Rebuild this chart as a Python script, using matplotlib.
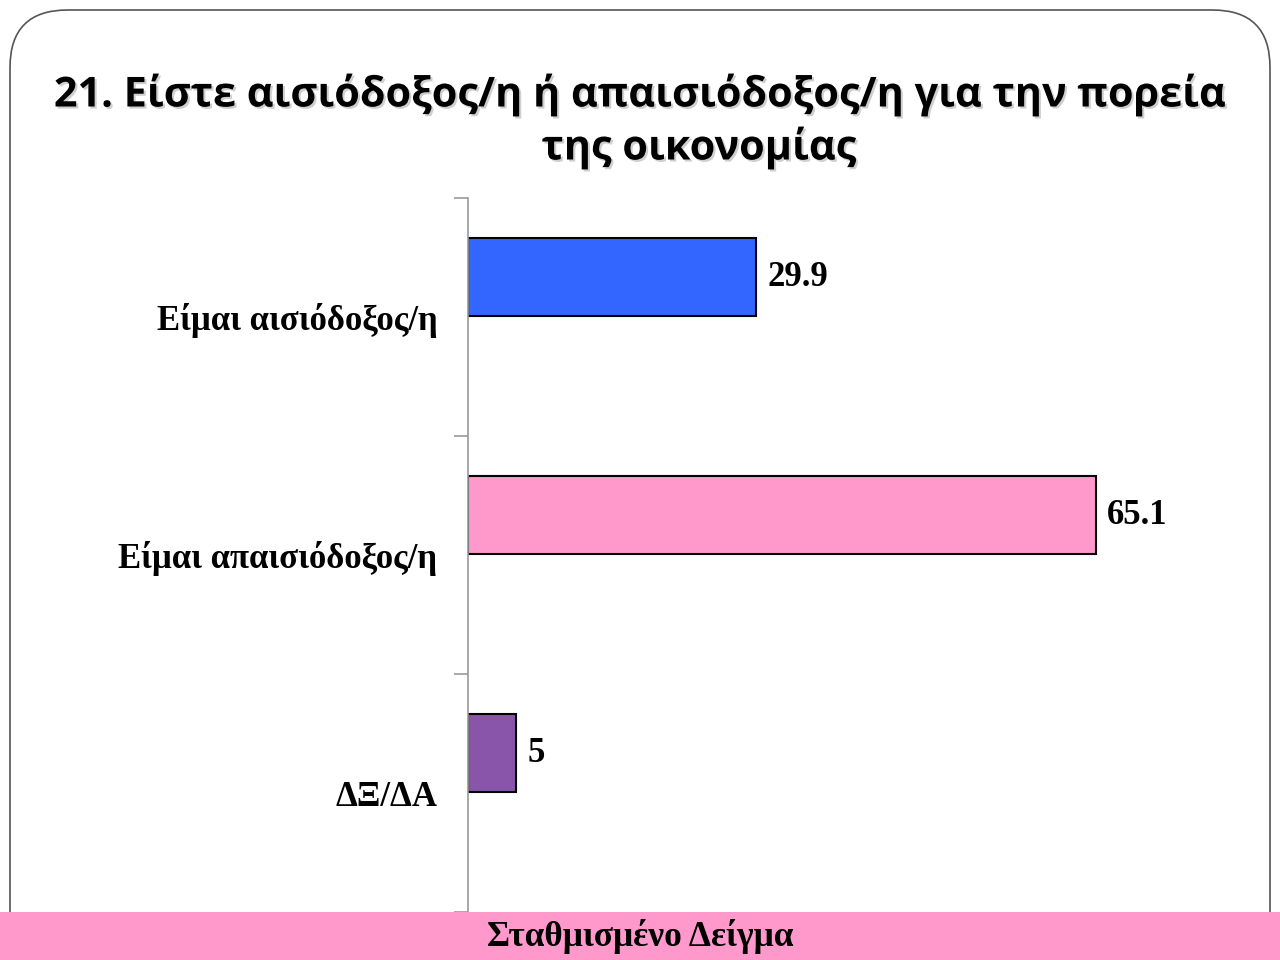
import matplotlib.pyplot as plt
import matplotlib.patheffects as pe
from matplotlib.patches import FancyBboxPatch, Rectangle

# data
categories = ['Είμαι αισιόδοξος/η', 'Είμαι απαισιόδοξος/η', 'ΔΞ/ΔΑ']
values = [29.9, 65.1, 5]
colors = ['#3366FF', '#FF99CC', '#8855AA']
title_line1 = '21. Είστε αισιόδοξος/η ή απαισιόδοξος/η για την πορεία'
title_line2 = 'της οικονομίας'
footer = 'Σταθμισμένο Δείγμα'

fig = plt.figure(figsize=(12.8, 9.6), dpi=100)

# slide frame with rounded corners
frame = FancyBboxPatch((10 / 1280, -0.05), 1260 / 1280, 0.05 + 950 / 960,
                       boxstyle='round,pad=0,rounding_size=0.045',
                       transform=fig.transFigure, facecolor='white',
                       edgecolor='#555555', linewidth=1.2, mutation_aspect=1.33,
                       zorder=-2)
fig.patches.append(frame)

# pink footer band
fig.patches.append(Rectangle((0, 0), 1, 48 / 960, transform=fig.transFigure,
                             facecolor='#FF99CC', edgecolor='none', zorder=3))
fig.text(0.5, 24 / 960, footer, ha='center', va='center', fontsize=25.5,
         fontweight='bold', family='Liberation Serif', zorder=4)

# title with soft shadow
shadow = [pe.SimplePatchShadow(offset=(1.5, -1.5), shadow_rgbFace='#888888', alpha=0.4), pe.Normal()]
fig.text(0.5, 1 - 95 / 960, title_line1, ha='center', va='center', fontsize=29.8,
         fontweight='bold', family='Open Sans', path_effects=shadow)
fig.text(699 / 1280, 1 - 148 / 960, title_line2, ha='center', va='center', fontsize=29.8,
         fontweight='bold', family='Open Sans', path_effects=shadow)

ax = fig.add_axes([468 / 1280, 48 / 960, 675 / 1280, (912 - 198) / 960])
ax.patch.set_alpha(0)
ax.set_zorder(1)

pos = list(range(len(categories)))[::-1]
bar_pos = [p + 0.168 for p in pos]
ax.barh(bar_pos, values, height=0.33, color=colors, edgecolor='black', linewidth=1.5, zorder=2)

for y, v in zip(bar_pos, values):
    ax.text(v + 1.2, y, f'{v:g}', va='center', ha='left', fontsize=25,
            fontweight='bold', family='Liberation Serif')

ax.set_xlim(0, 70)
ax.set_ylim(-0.5, 2.5)
for s in ['top', 'right', 'bottom']:
    ax.spines[s].set_visible(False)
ax.spines['left'].set_color('#999999')
ax.spines['left'].set_linewidth(1.2)
ax.set_xticks([])
ax.set_yticks(pos)
ax.set_yticklabels(categories, fontsize=25, fontweight='bold', family='Liberation Serif')
ax.tick_params(axis='y', which='major', length=0, pad=22)
ax.set_yticks([-0.5, 0.5, 1.5, 2.5], minor=True)
ax.tick_params(axis='y', which='minor', length=10, color='#999999', width=1.2)

fig.savefig('out.png', dpi=100)
